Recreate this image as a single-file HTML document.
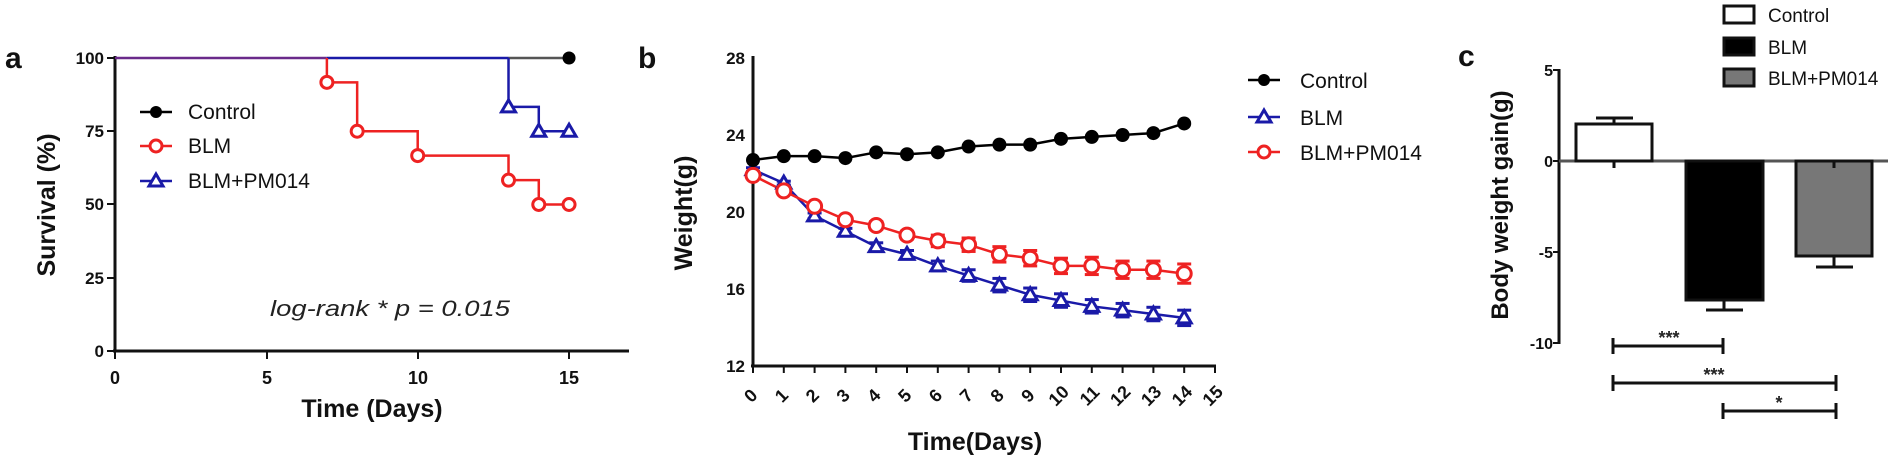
<!DOCTYPE html>
<html><head><meta charset="utf-8"><style>
html,body{margin:0;padding:0;background:#fff}
svg{display:block}
text{font-family:"Liberation Sans",Arial,sans-serif}
</style></head><body>
<svg id="s" width="1900" height="461" viewBox="0 0 1900 461" xmlns="http://www.w3.org/2000/svg">
<g font-weight="bold" fill="#111">
<text x="5" y="68" font-size="30">a</text>
<text x="638" y="68" font-size="30">b</text>
<text x="1458" y="66" font-size="30">c</text>
</g>
<!-- Panel a -->
<g stroke="#111" stroke-width="3" fill="none">
<line x1="115" y1="56" x2="115" y2="352"/>
<line x1="113" y1="351" x2="629" y2="351"/>
</g>
<g stroke="#111" stroke-width="2">
<line x1="107" y1="58" x2="115" y2="58"/><line x1="107" y1="131" x2="115" y2="131"/><line x1="107" y1="204" x2="115" y2="204"/><line x1="107" y1="278" x2="115" y2="278"/><line x1="107" y1="351" x2="115" y2="351"/>
<line x1="115" y1="351" x2="115" y2="359"/><line x1="267" y1="351" x2="267" y2="359"/><line x1="418" y1="351" x2="418" y2="359"/><line x1="569" y1="351" x2="569" y2="359"/>
</g>
<g font-size="17" font-weight="bold" fill="#111" text-anchor="end">
<text x="104" y="64">100</text><text x="104" y="137">75</text><text x="104" y="210">50</text><text x="104" y="284">25</text><text x="104" y="357">0</text>
</g>
<g font-size="18" font-weight="bold" fill="#111" text-anchor="middle">
<text x="115" y="384">0</text><text x="267" y="384">5</text><text x="418" y="384">10</text><text x="569" y="384">15</text>
</g>
<text x="372" y="417" font-size="25" font-weight="bold" text-anchor="middle" fill="#111">Time (Days)</text>
<text transform="translate(55,205) rotate(-90)" font-size="25" font-weight="bold" text-anchor="middle" fill="#111">Survival (%)</text>
<text x="270" y="316" font-size="22" font-style="italic" fill="#222" textLength="240" lengthAdjust="spacingAndGlyphs">log-rank  * p = 0.015</text>
<g id="ga"></g>
<!-- legend a -->
<g stroke-width="2.5">
<line x1="140" y1="112" x2="172" y2="112" stroke="#000"/><circle cx="156" cy="112" r="6" fill="#000"/>
<line x1="140" y1="146" x2="172" y2="146" stroke="#e22"/><circle cx="156" cy="146" r="6" fill="#fff" stroke="#e22" stroke-width="3"/>
<line x1="140" y1="181" x2="172" y2="181" stroke="#1a1aa8"/><path d="M156,174 L163,186 L149,186 Z" fill="#fff" stroke="#1a1aa8" stroke-width="3"/>
</g>
<g font-size="21" fill="#111">
<text x="188" y="119">Control</text><text x="188" y="153">BLM</text><text x="188" y="188">BLM+PM014</text>
</g>
<!-- Panel b -->
<g stroke="#111" stroke-width="3" fill="none">
<line x1="753" y1="56" x2="753" y2="367"/>
<line x1="751" y1="366" x2="1216" y2="366"/>
</g>
<g id="gbt" stroke="#111" stroke-width="2"></g>
<g font-size="17" font-weight="bold" fill="#111" text-anchor="end">
<text x="745" y="64">28</text><text x="745" y="141">24</text><text x="745" y="218">20</text><text x="745" y="295">16</text><text x="745" y="372">12</text>
</g>
<g id="gbl" font-size="18" font-weight="bold" fill="#111" text-anchor="middle"></g>
<text x="975" y="450" font-size="25" font-weight="bold" text-anchor="middle" fill="#111">Time(Days)</text>
<text transform="translate(692,213) rotate(-90)" font-size="25" font-weight="bold" text-anchor="middle" fill="#111">Weight(g)</text>
<g id="gb"></g>
<g stroke-width="2.5">
<line x1="1248" y1="80" x2="1280" y2="80" stroke="#000"/><circle cx="1264" cy="80" r="6" fill="#000"/>
<line x1="1248" y1="117" x2="1280" y2="117" stroke="#1a1aa8"/><path d="M1264,110 L1271,122 L1257,122 Z" fill="#fff" stroke="#1a1aa8" stroke-width="3"/>
<line x1="1248" y1="152" x2="1280" y2="152" stroke="#e22"/><circle cx="1264" cy="152" r="6" fill="#fff" stroke="#e22" stroke-width="3"/>
</g>
<g font-size="21" fill="#111">
<text x="1300" y="88">Control</text><text x="1300" y="125">BLM</text><text x="1300" y="160">BLM+PM014</text>
</g>
<!-- Panel c -->
<g stroke="#111" stroke-width="3" fill="none">
<line x1="1559" y1="69" x2="1559" y2="344"/>
</g>
<line x1="1559" y1="161" x2="1888" y2="161" stroke="#555" stroke-width="3"/>
<g stroke="#111" stroke-width="2">
<line x1="1553" y1="70" x2="1559" y2="70"/><line x1="1553" y1="161" x2="1559" y2="161"/><line x1="1553" y1="252" x2="1559" y2="252"/><line x1="1553" y1="343" x2="1559" y2="343"/>
</g>
<g font-size="16" font-weight="bold" fill="#111" text-anchor="end">
<text x="1553" y="76">5</text><text x="1553" y="167">0</text><text x="1553" y="258">-5</text><text x="1553" y="349">-10</text>
</g>
<text transform="translate(1508,205) rotate(-90)" font-size="24" font-weight="bold" text-anchor="middle" fill="#111">Body weight gain(g)</text>
<g stroke="#111" stroke-width="3">
<line x1="1614" y1="124" x2="1614" y2="118"/><line x1="1596" y1="118" x2="1633" y2="118"/>
<line x1="1614" y1="161" x2="1614" y2="168"/>
<rect x="1576" y="124" width="76" height="37" fill="#fff"/>
<line x1="1724" y1="300" x2="1724" y2="310"/><line x1="1706" y1="310" x2="1743" y2="310"/>
<rect x="1686" y="161" width="77" height="139" fill="#000"/>
<line x1="1834" y1="256" x2="1834" y2="267"/><line x1="1816" y1="267" x2="1853" y2="267"/>
<rect x="1796" y="161" width="76" height="95" fill="#777"/>
<line x1="1834" y1="161" x2="1834" y2="168"/>
</g>
<g stroke="#111" stroke-width="3">
<line x1="1613" y1="346" x2="1723" y2="346"/><line x1="1613" y1="338" x2="1613" y2="354"/><line x1="1723" y1="338" x2="1723" y2="354"/>
<line x1="1613" y1="383" x2="1836" y2="383"/><line x1="1613" y1="375" x2="1613" y2="391"/><line x1="1836" y1="375" x2="1836" y2="391"/>
<line x1="1723" y1="411" x2="1836" y2="411"/><line x1="1723" y1="403" x2="1723" y2="419"/><line x1="1836" y1="403" x2="1836" y2="419"/>
</g>
<g font-size="18" font-weight="bold" fill="#222" text-anchor="middle">
<text x="1669" y="344">***</text><text x="1714" y="381">***</text><text x="1779" y="409">*</text>
</g>
<g stroke="#111" stroke-width="3">
<rect x="1724" y="6" width="30" height="17" fill="#fff"/>
<rect x="1724" y="38" width="30" height="17" fill="#000"/>
<rect x="1724" y="69" width="30" height="17" fill="#777"/>
</g>
<g font-size="19" fill="#111">
<text x="1768" y="22">Control</text><text x="1768" y="54">BLM</text><text x="1768" y="85">BLM+PM014</text>
</g>
</svg>
<script>
var NS="http://www.w3.org/2000/svg";
function el(p,t,a){var e=document.createElementNS(NS,t);for(var k in a)e.setAttribute(k,a[k]);p.appendChild(e);return e;}
var ga=document.getElementById('ga');
function ax(d){return 115+d*30.27;} function ay(v){return 351-v*2.93;}
el(ga,'line',{x1:ax(13),y1:ay(100),x2:ax(15),y2:ay(100),stroke:'#555','stroke-width':2.5});
el(ga,'line',{x1:ax(7),y1:ay(100),x2:ax(13),y2:ay(100),stroke:'#1a1aa8','stroke-width':2.5});
el(ga,'line',{x1:ax(0),y1:ay(100),x2:ax(7),y2:ay(100),stroke:'#6a2a8a','stroke-width':2.5});
var red=[[7,100],[7,91.7],[8,91.7],[8,75],[10,75],[10,66.7],[13,66.7],[13,58.3],[14,58.3],[14,50],[15,50]];
el(ga,'polyline',{points:red.map(function(p){return ax(p[0])+','+ay(p[1])}).join(' '),fill:'none',stroke:'#e22','stroke-width':2.5});
var blue=[[13,100],[13,83.3],[14,83.3],[14,75],[15,75]];
el(ga,'polyline',{points:blue.map(function(p){return ax(p[0])+','+ay(p[1])}).join(' '),fill:'none',stroke:'#1a1aa8','stroke-width':2.5});
[[7,91.7],[8,75],[10,66.7],[13,58.3],[14,50],[15,50]].forEach(function(p){el(ga,'circle',{cx:ax(p[0]),cy:ay(p[1]),r:6,fill:'#fff',stroke:'#e22','stroke-width':3});});
function tri(g,x,y,c){el(g,'path',{d:'M'+x+','+(y-7)+' L'+(x+7)+','+(y+5)+' L'+(x-7)+','+(y+5)+' Z',fill:'#fff',stroke:c,'stroke-width':3});}
[[13,83.3],[14,75],[15,75]].forEach(function(p){tri(ga,ax(p[0]),ay(p[1]),'#1a1aa8');});
el(ga,'circle',{cx:ax(15),cy:ay(100),r:6.5,fill:'#000'});
var gb=document.getElementById('gb'),gbt=document.getElementById('gbt'),gbl=document.getElementById('gbl');
function bx(d){return 753+d*30.8;} function by(v){return 366-(v-12)*19.25;}
for(var i=0;i<=15;i++){el(gbt,'line',{x1:bx(i),y1:366,x2:bx(i),y2:373});
 var t=el(gbl,'text',{x:0,y:0,transform:'translate('+(bx(i)+2)+',400) rotate(-45)'});t.textContent=i;}
var C=[22.7,22.9,22.9,22.8,23.1,23.0,23.1,23.4,23.5,23.5,23.8,23.9,24.0,24.1,24.6];
var B=[22.2,21.5,19.8,19.0,18.2,17.8,17.2,16.7,16.2,15.7,15.4,15.1,14.9,14.7,14.5];
var R=[21.9,21.1,20.3,19.6,19.3,18.8,18.5,18.3,17.8,17.6,17.2,17.2,17.0,17.0,16.8];
var BE=[0.1,0.1,0.15,0.15,0.2,0.2,0.25,0.3,0.35,0.35,0.35,0.35,0.35,0.35,0.4];
var RE=[0.1,0.1,0.15,0.15,0.2,0.2,0.3,0.35,0.4,0.4,0.4,0.45,0.45,0.45,0.5];
function line(arr,c){el(gb,'polyline',{points:arr.map(function(v,i){return bx(i)+','+by(v)}).join(' '),fill:'none',stroke:c,'stroke-width':2.5});}
function err(arr,e,c){arr.forEach(function(v,i){var x=bx(i);el(gb,'line',{x1:x,y1:by(v+e[i]),x2:x,y2:by(v-e[i]),stroke:c,'stroke-width':3});
 el(gb,'line',{x1:x-7,y1:by(v+e[i]),x2:x+7,y2:by(v+e[i]),stroke:c,'stroke-width':3});el(gb,'line',{x1:x-7,y1:by(v-e[i]),x2:x+7,y2:by(v-e[i]),stroke:c,'stroke-width':3});});}
line(C,'#000');line(B,'#1a1aa8');line(R,'#e22');
err(B,BE,'#1a1aa8');err(R,RE,'#e22');
B.forEach(function(v,i){tri(gb,bx(i),by(v),'#1a1aa8');});
R.forEach(function(v,i){el(gb,'circle',{cx:bx(i),cy:by(v),r:7,fill:'#fff',stroke:'#e22','stroke-width':3});});
C.forEach(function(v,i){el(gb,'circle',{cx:bx(i),cy:by(v),r:7,fill:'#000'});});
</script>
</body></html>
